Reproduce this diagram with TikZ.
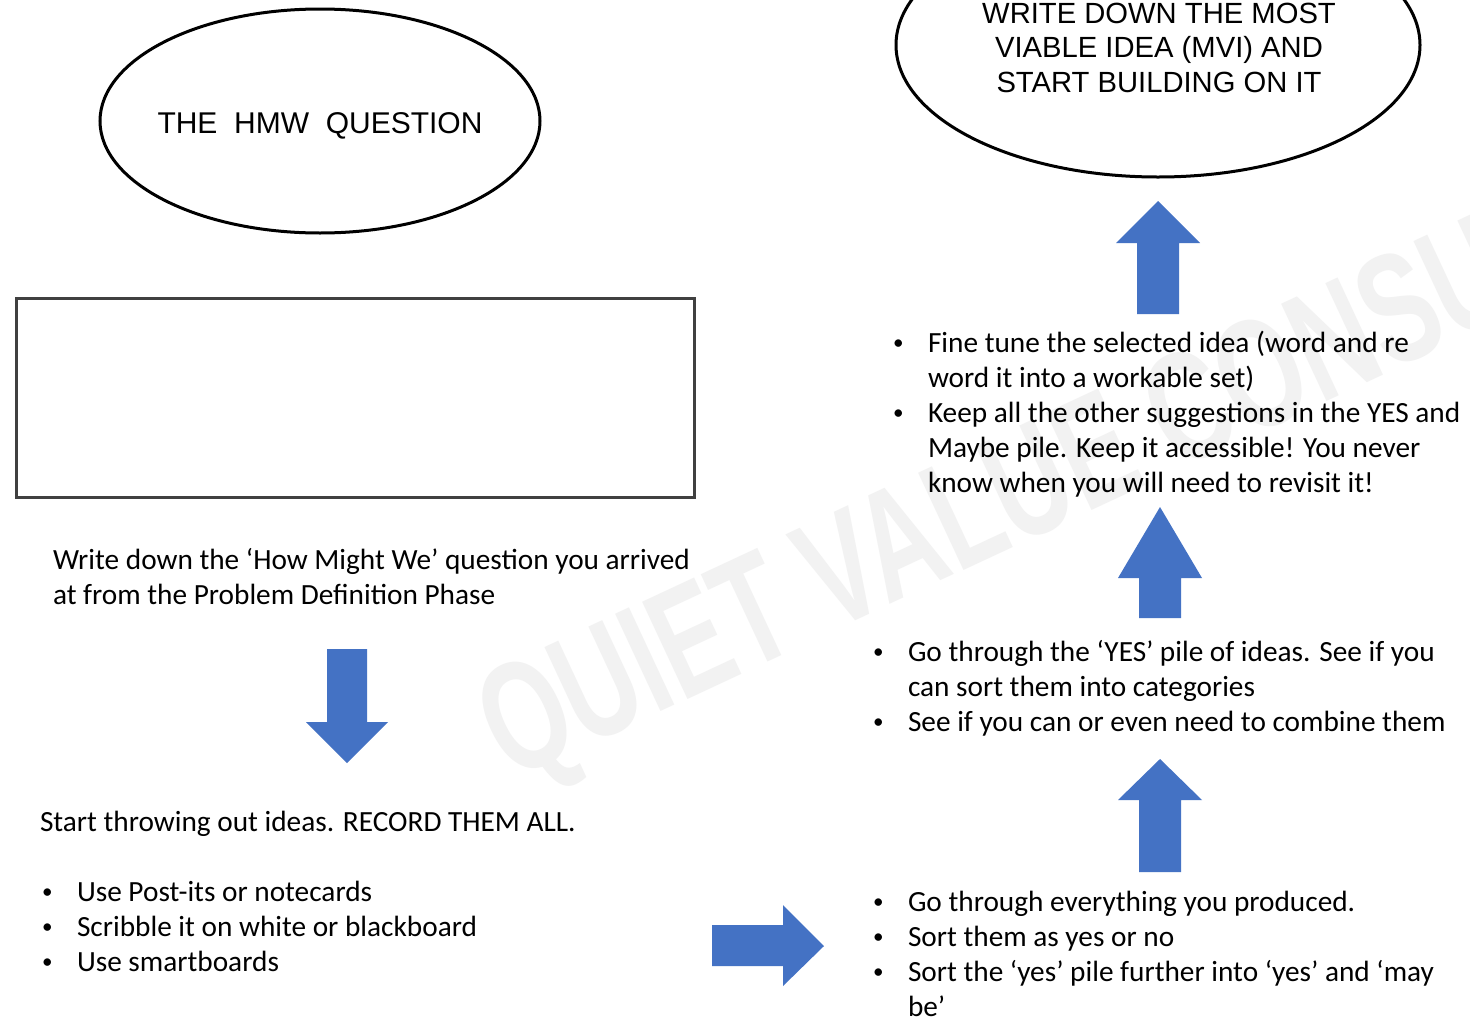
\documentclass[tikz,border=0pt]{standalone}
\usepackage{fontspec}
\setmainfont{Carlito}
\newfontfamily\arialf{Liberation Sans}
\usetikzlibrary{shapes.geometric}
\definecolor{arrowblue}{HTML}{4472C4}
\definecolor{boxgray}{HTML}{404040}
\definecolor{wmgray}{HTML}{F2F2F2}
\newcommand{\bul}{\makebox[35pt][l]{\raisebox{2.5pt}{\scalebox{0.72}{\textbullet}}}}
\begin{document}
\begin{tikzpicture}[x=1pt,y=-1pt,
  body/.style={font=\fontsize{29.3}{35}\selectfont, inner sep=0pt, outer sep=0pt, anchor=base west},
  oval/.style={ellipse, draw=black, line width=3pt, inner sep=0pt, outer sep=0pt},
  ovaltext/.style={font=\arialf\fontsize{29.2}{34.5}\selectfont, anchor=base, inner sep=0pt},
  blockarrow/.style={fill=arrowblue, draw=none}]
\useasboundingbox (0,0) rectangle (1470,1023);
\fill[white] (0,0) rectangle (1470,1023);
% watermark
\begin{scope}
\clip (0,0) rectangle (1470,1023);
\node[rotate=25, anchor=base west, inner sep=0pt, text=wmgray,
      font=\arialf\bfseries\fontsize{156}{156}\selectfont] (wm) at (510,782)
      {\scalebox{0.68}[1]{QUIET VALUE CONSU}};
\end{scope}
% ellipses
\node[oval, minimum width=440pt, minimum height=224pt] (hmw) at (320,121) {};
\node[ovaltext, font=\arialf\fontsize{30}{34.5}\selectfont] (hmwt) at (320,133) {THE~ HMW~ QUESTION};
\node[oval, minimum width=524pt, minimum height=264pt] (mvi) at (1158,45) {};
\node[ovaltext] (mvit) at (1159,23)
  {\begin{tabular}[t]{@{}c@{}}WRITE DOWN THE MOST\\VIABLE IDEA (MVI) AND\\START BUILDING ON IT\end{tabular}};
% rectangle
\node[draw=boxgray, line width=3pt, minimum width=678pt, minimum height=199pt, inner sep=0pt, outer sep=0pt, anchor=north west] (box) at (16,298) {};
% left texts
\node[body] (hmwtext) at (53,569) {\begin{tabular}[t]{@{}l@{}}Write down the ‘How Might We’ question you arrived\\at from the Problem Definition Phase\end{tabular}};
\node[body] (ideas) at (40,831) {Start throwing out ideas. RECORD THEM ALL.};
\node[body] (tools) at (42,901) {\begin{tabular}[t]{@{}l@{}l@{}}\bul&Use Post-its or notecards\\\bul&Scribble it on white or blackboard\\\bul&Use smartboards\end{tabular}};
% right texts
\node[body] (sort) at (873,911) {\begin{tabular}[t]{@{}l@{}l@{}}\bul&Go through everything you produced.\\\bul&Sort them as yes or no\\\bul&Sort the ‘yes’ pile further into ‘yes’ and ‘may\\&be’\end{tabular}};
\node[body] (cat) at (873,661) {\begin{tabular}[t]{@{}l@{}l@{}}\bul&Go through the ‘YES’ pile of ideas. See if you\\&can sort them into categories\\\bul&See if you can or even need to combine them\end{tabular}};
\node[body] (tune) at (893,352) {\begin{tabular}[t]{@{}l@{}l@{}}\bul&Fine tune the selected idea (word and re\\&word it into a workable set)\\\bul&Keep all the other suggestions in the YES and\\&Maybe pile. Keep it accessible! You never\\&know when you will need to revisit it!\end{tabular}};
% block arrows
\fill[blockarrow] (327,649) -- (367,649) -- (367,722) -- (388,722) -- (347,763) -- (306,722) -- (327,722) -- cycle;
\fill[blockarrow] (712,925) -- (783,925) -- (783,905) -- (824,946) -- (783,986) -- (783,966) -- (712,966) -- cycle;
\fill[blockarrow] (1139,872) -- (1181,872) -- (1181,800) -- (1202,800) -- (1160,759) -- (1118,800) -- (1139,800) -- cycle;
\fill[blockarrow] (1139,618) -- (1181,618) -- (1181,578) -- (1202,578) -- (1160,507) -- (1118,578) -- (1139,578) -- cycle;
\fill[blockarrow] (1137,314) -- (1179,314) -- (1179,243) -- (1200,243) -- (1158,201) -- (1116,243) -- (1137,243) -- cycle;
\end{tikzpicture}
\end{document}
